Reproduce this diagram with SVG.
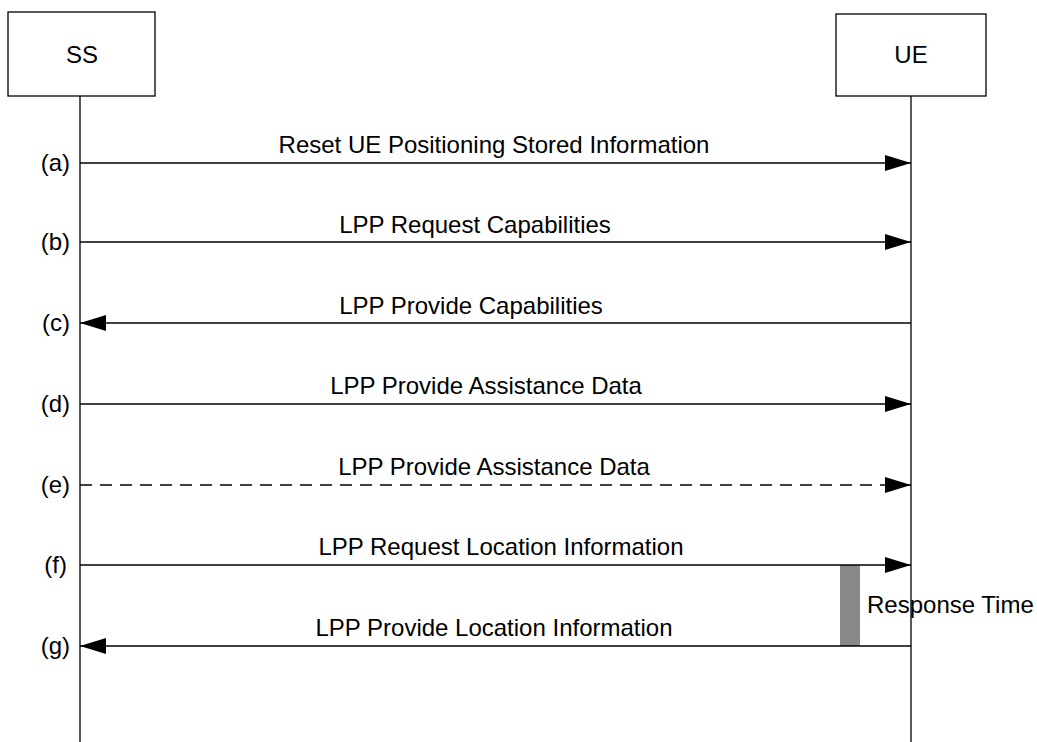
<svg xmlns="http://www.w3.org/2000/svg" width="1037" height="742" viewBox="0 0 1037 742">
<style>
text{font-family:"Liberation Sans",Arial,sans-serif;font-size:24px;fill:#000}
.box{fill:#fff;stroke:#000;stroke-width:1.3}
.life{stroke:#000;stroke-width:1.3;fill:none}
.msg{stroke:#000;stroke-width:1.5;fill:none}
.dash{stroke-dasharray:12,8}
</style>
<defs>
<marker id="ah" markerWidth="26" markerHeight="16" refX="26" refY="8" orient="auto" markerUnits="userSpaceOnUse">
<path d="M0,0 L26,8 L0,16 Z" fill="#000"/>
</marker>
</defs>
<g id="node-ss">
<rect class="box" x="8" y="12" width="147" height="84"/>
<text x="82" y="63" text-anchor="middle">SS</text>
<line class="life" x1="80" y1="96" x2="80" y2="742"/>
</g>
<g id="node-ue">
<rect class="box" x="836" y="14" width="150" height="82"/>
<text x="911" y="63" text-anchor="middle">UE</text>
<line class="life" x1="911" y1="96" x2="911" y2="742"/>
</g>
<g id="response-time">
<rect x="840" y="565" width="20" height="81" fill="#888"/>
<text x="867" y="613">Response Time</text>
</g>
<g id="connectors">
<line class="msg" x1="80" y1="163" x2="911" y2="163" marker-end="url(#ah)"/>
<line class="msg" x1="80" y1="242" x2="911" y2="242" marker-end="url(#ah)"/>
<line class="msg" x1="911" y1="323" x2="80" y2="323" marker-end="url(#ah)"/>
<line class="msg" x1="80" y1="404" x2="911" y2="404" marker-end="url(#ah)"/>
<line class="msg dash" x1="80" y1="485" x2="911" y2="485" marker-end="url(#ah)"/>
<line class="msg" x1="80" y1="565" x2="911" y2="565" marker-end="url(#ah)"/>
<line class="msg" x1="911" y1="646" x2="80" y2="646" marker-end="url(#ah)"/>
</g>
<g id="labels">
<text x="494" y="153" text-anchor="middle">Reset UE Positioning Stored Information</text>
<text x="475" y="233" text-anchor="middle">LPP Request Capabilities</text>
<text x="471" y="314" text-anchor="middle">LPP Provide Capabilities</text>
<text x="486" y="394" text-anchor="middle">LPP Provide Assistance Data</text>
<text x="494" y="475" text-anchor="middle">LPP Provide Assistance Data</text>
<text x="501" y="555" text-anchor="middle">LPP Request Location Information</text>
<text x="494" y="636" text-anchor="middle">LPP Provide Location Information</text>
<text x="70" y="171" text-anchor="end">(a)</text>
<text x="70" y="250" text-anchor="end">(b)</text>
<text x="70" y="331" text-anchor="end">(c)</text>
<text x="70" y="412" text-anchor="end">(d)</text>
<text x="70" y="493" text-anchor="end">(e)</text>
<text x="67" y="573" text-anchor="end">(f)</text>
<text x="70" y="654" text-anchor="end">(g)</text>
</g>
</svg>
